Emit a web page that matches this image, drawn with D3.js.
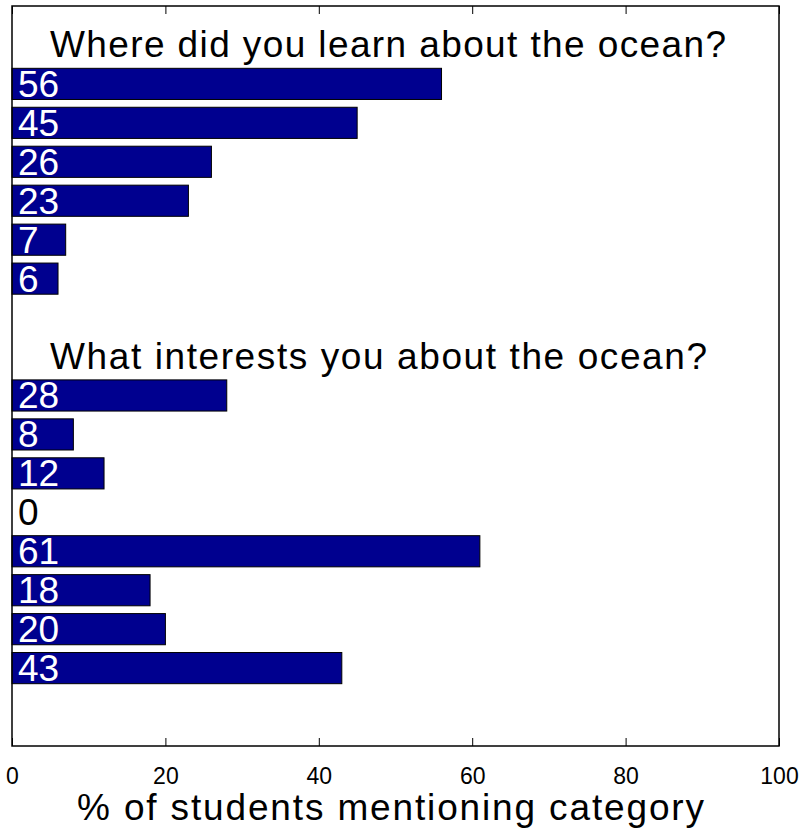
<!DOCTYPE html>
<html><head><meta charset="utf-8">
<script src="https://cdn.jsdelivr.net/npm/d3@7"></script>
<style>body{margin:0;background:#fff;} svg{display:block;font-family:"Liberation Sans",Arial,sans-serif;}</style>
</head><body>
<script>
const learnValues = [56, 45, 26, 23, 7, 6];
const interestValues = [28, 8, 12, 0, 61, 18, 20, 43];
const titles = ["Where did you learn about the ocean?", "What interests you about the ocean?"];
const xTicks = [0, 20, 40, 60, 80, 100];
const xLabel = "% of students mentioning category";

(function () {
const W = 806, H = 830;
const mLeft = 12, mRight = 779, mTop = 6, mBottom = 746;
const svg = d3.select("body").append("svg").attr("width", W).attr("height", H);

const x = d3.scaleLinear().domain([0, 100]).range([mLeft, mRight]);
const y = d3.scaleLinear().domain([0, 19]).range([mTop, mBottom]);

// rows: title1 at 1, learn bars at 2..7, title2 at 9, interest bars at 10..17
const rows = [];
learnValues.forEach((v, i) => rows.push({v, pos: 2 + i}));
interestValues.forEach((v, i) => rows.push({v, pos: 10 + i}));
const band = y(1) - y(0);
const bh = band * 0.8;

svg.append("g").selectAll("rect").data(rows.filter(d => d.v > 0)).join("rect")
  .attr("x", x(0)).attr("y", d => y(d.pos) - bh / 2)
  .attr("width", d => x(d.v) - x(0)).attr("height", bh)
  .attr("fill", "#00008f").attr("stroke", "#000").attr("stroke-width", 1);

svg.append("g").selectAll("text").data(rows).join("text")
  .attr("x", 18).attr("y", d => y(d.pos) + 13)
  .attr("font-size", 37)
  .attr("fill", d => d.v > 0 ? "#fff" : "#000")
  .text(d => d.v);

const titleLen = [676, 657];
svg.append("g").selectAll("text").data(titles).join("text")
  .attr("x", 50).attr("y", (d, i) => y(i === 0 ? 1 : 9) + 12)
  .attr("font-size", 37).attr("fill", "#000")
  .attr("textLength", (d, i) => titleLen[i]).attr("lengthAdjust", "spacing")
  .text(d => d);

// frame
svg.append("rect").attr("x", mLeft).attr("y", mTop).attr("width", mRight - mLeft).attr("height", mBottom - mTop)
  .attr("fill", "none").attr("stroke", "#000").attr("stroke-width", 1.5);

const bAxis = d3.axisBottom(x).tickValues(xTicks).tickSize(-8).tickPadding(22).tickFormat(d3.format("d"));
const gb = svg.append("g").attr("transform", `translate(0,${mBottom})`).call(bAxis);
gb.select(".domain").remove();
gb.selectAll(".tick line").attr("stroke", "#000");
gb.selectAll(".tick text").attr("font-size", 23).attr("fill", "#000")
  .attr("font-family", "Liberation Sans, Arial, sans-serif");

const tAxis = d3.axisTop(x).tickValues(xTicks).tickSize(-8).tickFormat("");
const gt = svg.append("g").attr("transform", `translate(0,${mTop})`).call(tAxis);
gt.select(".domain").remove();
gt.selectAll(".tick line").attr("stroke", "#000");

svg.append("text").attr("x", 77).attr("y", 820)
  .attr("font-size", 37).attr("fill", "#000")
  .attr("textLength", 627).attr("lengthAdjust", "spacing")
  .text(xLabel);
})();
</script>
</body></html>
